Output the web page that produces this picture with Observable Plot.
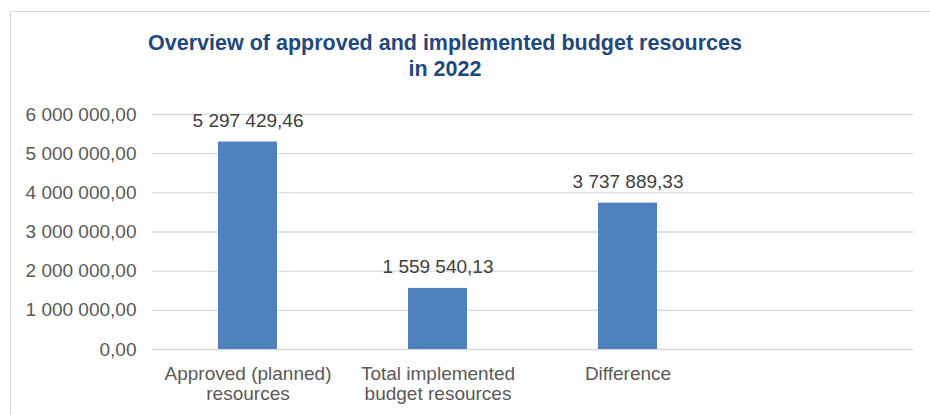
<!DOCTYPE html>
<html>
<head>
<meta charset="utf-8">
<script src="https://cdn.jsdelivr.net/npm/d3@7"></script>
<script src="https://cdn.jsdelivr.net/npm/@observablehq/plot@0.6"></script>
<style>
  html, body { margin: 0; padding: 0; background: #fff; }
  #wrap { position: relative; width: 930px; height: 415px; overflow: hidden; font-family: "Liberation Sans", Arial, sans-serif; }
  #frame { position: absolute; left: 10px; top: 11px; width: 940px; height: 420px; border: 1px solid #d9d9d9; box-sizing: border-box; }
  #title { position: relative; height: 95px; box-sizing: border-box; padding-top: 30px; width: 890px; text-align: center;
           font-size: 21.5px; font-weight: bold; line-height: 26px; color: #1f497d; }
  #chart { position: relative; }
  #chart svg { background: transparent; }
</style>
</head>
<body>
<div id="wrap">
  <div id="frame"></div>
  <div id="title">Overview of approved and implemented budget resources<br>in 2022</div>
  <div id="chart"></div>
</div>
<script>
const categories = [
  "Approved (planned)\nresources",
  "Total implemented\nbudget resources",
  "Difference"
];
const values = [5297429.46, 1559540.13, 3737889.33];
const emptySlot = " ";
const yTicks = [0, 1000000, 2000000, 3000000, 4000000, 5000000, 6000000];

const data = categories.map((c, i) => ({category: c, value: values[i]}));
const fmt = d3.formatLocale({decimal: ",", thousands: " ", grouping: [3], currency: ["", ""]}).format(",.2f");

const chart = Plot.plot({
  width: 930,
  height: 320,
  marginTop: 19,
  marginBottom: 66,
  marginLeft: 152,
  marginRight: 17,
  style: {fontFamily: "'Liberation Sans', Arial, sans-serif", fontSize: "19px", background: "transparent"},
  x: {domain: [...categories, emptySlot], paddingInner: 0.69, paddingOuter: 0.345, label: null},
  y: {domain: [0, 6000000], label: null},
  marks: [
    Plot.gridY(yTicks, {stroke: "#d9d9d9", strokeOpacity: 1, strokeWidth: 1.3}),
    Plot.axisY(yTicks, {tickSize: 0, tickPadding: 16, tickFormat: fmt, fill: "#595959", fontSize: 19, label: null}),
    Plot.axisX({tickSize: 0, tickPadding: 16, fill: "#595959", fontSize: 19, lineHeight: 1.06, label: null}),
    Plot.barY(data, {x: "category", y: "value", fill: "#4f81bd"}),
    Plot.text(data, {x: "category", y: "value", text: d => fmt(d.value), dy: -21.5, fill: "#404040", fontSize: 19, lineAnchor: "middle"})
  ]
});
document.getElementById("chart").appendChild(chart);
</script>
</body>
</html>
